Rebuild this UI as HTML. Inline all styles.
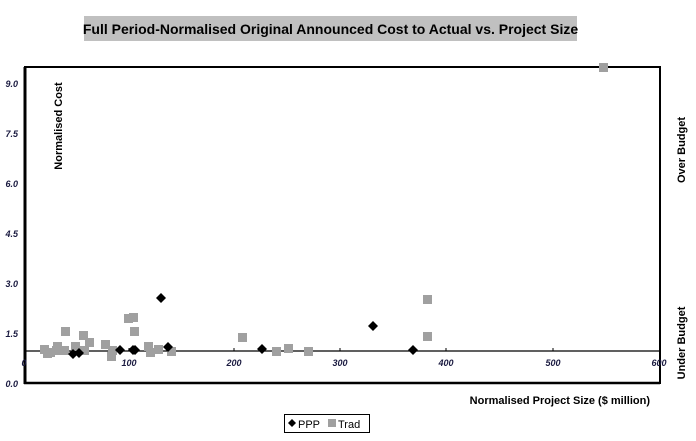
<!DOCTYPE html>
<html><head><meta charset="utf-8"><style>
body{margin:0;background:#fff;}
svg{display:block;font-family:"Liberation Sans",Arial,sans-serif;}
</style></head><body>
<svg width="696" height="441" viewBox="0 0 696 441" xmlns="http://www.w3.org/2000/svg">
<rect width="696" height="441" fill="#fff"/>
<rect x="84" y="16" width="493" height="25" fill="#c0c0c0"/>
<text x="330.5" y="34" text-anchor="middle" font-size="14" font-weight="bold" fill="#000">Full Period-Normalised Original Announced Cost to Actual vs. Project Size</text>
<rect x="25" y="67" width="635" height="316" fill="none" stroke="#000" stroke-width="2"/>
<line x1="25" y1="67" x2="25" y2="384" stroke="#000" stroke-width="3"/>
<line x1="24" y1="383" x2="660" y2="383" stroke="#000" stroke-width="2.5"/>
<line x1="25" y1="351" x2="660" y2="351" stroke="#000" stroke-width="1.3"/>
<g font-size="9" font-style="italic" font-weight="bold" fill="#1a1a40" text-anchor="end">
<text x="18" y="87">9.0</text><text x="18" y="137">7.5</text><text x="18" y="187">6.0</text>
<text x="18" y="237">4.5</text><text x="18" y="287">3.0</text><text x="18" y="337">1.5</text><text x="18" y="387">0.0</text>
</g>
<g stroke="#000" stroke-width="1">
<line x1="129" y1="348" x2="129" y2="351"/><line x1="234" y1="348" x2="234" y2="351"/><line x1="340" y1="348" x2="340" y2="351"/><line x1="446" y1="348" x2="446" y2="351"/><line x1="553" y1="348" x2="553" y2="351"/>
</g>
<g font-size="9" font-style="italic" font-weight="bold" fill="#1a1a40" text-anchor="middle">
<text x="24" y="366">0</text><text x="129" y="366">100</text><text x="234" y="366">200</text><text x="340" y="366">300</text><text x="446" y="366">400</text><text x="553" y="366">500</text><text x="659" y="366">600</text>
</g>
<text transform="translate(62,126) rotate(-90)" text-anchor="middle" font-size="11" font-weight="bold">Normalised Cost</text>
<text transform="translate(685,150) rotate(-90)" text-anchor="middle" font-size="11" font-weight="bold">Over Budget</text>
<text transform="translate(685,343) rotate(-90)" text-anchor="middle" font-size="11" font-weight="bold">Under Budget</text>
<text x="650" y="404" text-anchor="end" font-size="11" font-weight="bold">Normalised Project Size ($ million)</text>
<g fill="#a0a0a0">
<rect x="40" y="345" width="9" height="9"/><rect x="43" y="349" width="9" height="9"/><rect x="46" y="348" width="9" height="9"/><rect x="53" y="342" width="9" height="9"/><rect x="52" y="346" width="9" height="9"/><rect x="61" y="327" width="9" height="9"/><rect x="60" y="346" width="9" height="9"/><rect x="71" y="342" width="9" height="9"/><rect x="79" y="331" width="9" height="9"/><rect x="80" y="346" width="9" height="9"/><rect x="85" y="338" width="9" height="9"/><rect x="101" y="340" width="9" height="9"/><rect x="107" y="352" width="9" height="9"/><rect x="108" y="346" width="9" height="9"/><rect x="124" y="314" width="9" height="9"/><rect x="129" y="313" width="9" height="9"/><rect x="130" y="327" width="9" height="9"/><rect x="144" y="342" width="9" height="9"/><rect x="146" y="348" width="9" height="9"/><rect x="154" y="345" width="9" height="9"/><rect x="167" y="347" width="9" height="9"/><rect x="238" y="333" width="9" height="9"/><rect x="272" y="347" width="9" height="9"/><rect x="284" y="344" width="9" height="9"/><rect x="304" y="347" width="9" height="9"/><rect x="423" y="332" width="9" height="9"/><rect x="423" y="295" width="9" height="9"/><rect x="599" y="63" width="9" height="9"/>
</g>
<g fill="#000">
<path d="M73 349l5 5-5 5-5-5z"/><path d="M79 348l5 5-5 5-5-5z"/><path d="M120 345l5 5-5 5-5-5z"/><path d="M133 345l5 5-5 5-5-5z"/><path d="M135 345l5 5-5 5-5-5z"/><path d="M161 293l5 5-5 5-5-5z"/><path d="M168 342l5 5-5 5-5-5z"/><path d="M262 344l5 5-5 5-5-5z"/><path d="M373 321l5 5-5 5-5-5z"/><path d="M413 345l5 5-5 5-5-5z"/>
</g>
<rect x="284.5" y="414.5" width="85" height="18" fill="#fff" stroke="#000" stroke-width="1"/>
<path d="M292 419l4 4-4 4-4-4z" fill="#000"/>
<text x="298" y="428" font-size="11">PPP</text>
<rect x="328" y="419" width="8" height="8" fill="#a0a0a0"/>
<text x="338" y="428" font-size="11">Trad</text>
</svg>
</body></html>
